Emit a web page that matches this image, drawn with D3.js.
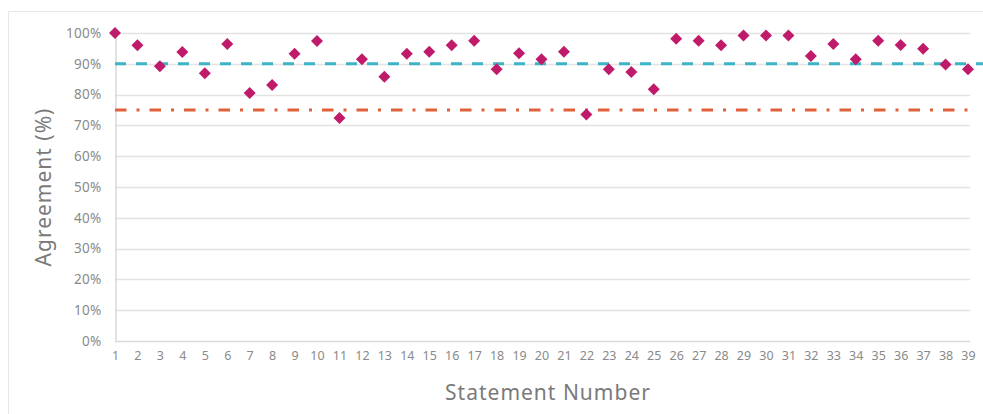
<!DOCTYPE html>
<html>
<head>
<meta charset="utf-8">
<script src="https://cdn.jsdelivr.net/npm/d3@7"></script>
<style>
  body { margin: 0; background: #fff; }
  svg { display: block; }
</style>
</head>
<body>
<div id="viz"></div>
<script>
// statement numbers and agreement share (0-1)
const statements = d3.range(1, 40);
const agreement = [
  1.0, 0.96, 0.892, 0.938, 0.869, 0.964, 0.805, 0.831, 0.933, 0.974,
  0.724, 0.915, 0.858, 0.933, 0.939, 0.96, 0.975, 0.882, 0.934, 0.915,
  0.939, 0.735, 0.882, 0.873, 0.817, 0.981, 0.975, 0.96, 0.992, 0.992,
  0.992, 0.925, 0.964, 0.915, 0.975, 0.961, 0.949, 0.898, 0.882
];
const yTicks = d3.range(0, 1.01, 0.1);
const targetLine = 0.9;
const minimumLine = 0.75;

const width = 983;
const height = 414;
const font = "'Noto Sans', sans-serif";

const svg = d3
  .select("#viz")
  .append("svg")
  .attr("width", width)
  .attr("height", height);

// chart frame
svg
  .append("path")
  .attr("d", `M8.5,${height} V11.5 H${width}`)
  .attr("fill", "none")
  .attr("stroke", "#e6e6e6");

const x = d3.scalePoint().domain(statements).range([115, 968]);
const y = d3.scaleLinear().domain([0, 1]).range([341, 33]);

// gridlines
svg
  .selectAll("line.grid")
  .data(yTicks.slice(1))
  .enter()
  .append("line")
  .classed("grid", true)
  .attr("x1", 115)
  .attr("x2", 970)
  .attr("y1", (d) => Math.round(y(d)) + 0.5)
  .attr("y2", (d) => Math.round(y(d)) + 0.5)
  .attr("stroke", "#e3e3e3")
  .attr("stroke-width", 1.3);

// axes
const yAxis = svg
  .append("g")
  .attr("transform", "translate(115.5,0)")
  .call(
    d3.axisLeft(y).tickValues(yTicks).tickSize(0).tickPadding(14)
      .tickFormat(d3.format(".0%"))
  );
yAxis.select(".domain").attr("stroke", "#d9d9d9").attr("stroke-width", 1.5);
yAxis
  .selectAll("text")
  .attr("fill", "#8a8a8a")
  .style("font-family", font)
  .style("font-size", "13.5px")
  .style("letter-spacing", "0.3px");

const xAxis = svg
  .append("g")
  .attr("transform", `translate(0,${y(0) + 0.5})`)
  .call(d3.axisBottom(x).tickSize(0).tickPadding(10));
xAxis.select(".domain")
  .attr("d", `M115,0H970`)
  .attr("stroke", "#d9d9d9")
  .attr("stroke-width", 1.5);
xAxis
  .selectAll("text")
  .attr("fill", "#8a8a8a")
  .style("font-family", font)
  .style("font-size", "12.5px");

// reference lines
svg
  .append("line")
  .attr("x1", 115)
  .attr("x2", width)
  .attr("y1", y(targetLine))
  .attr("y2", y(targetLine))
  .attr("stroke", "#3db4c6")
  .attr("stroke-width", 3)
  .attr("stroke-dasharray", "11 10");

svg
  .append("line")
  .attr("x1", 115)
  .attr("x2", 975)
  .attr("y1", y(minimumLine))
  .attr("y2", y(minimumLine))
  .attr("stroke", "#e0603c")
  .attr("stroke-width", 3)
  .attr("stroke-dasharray", "11.5 10 3 10");

// points
svg
  .selectAll("path.point")
  .data(agreement)
  .enter()
  .append("path")
  .classed("point", true)
  .attr("d", d3.symbol().type(d3.symbolSquare).size(72))
  .attr(
    "transform",
    (d, i) => `translate(${x(statements[i])},${y(d)}) rotate(45)`
  )
  .attr("fill", "#c01b6b");

// axis titles
svg
  .append("text")
  .text("Agreement (%)")
  .attr("transform", `translate(51,${y(0.5)}) rotate(-90)`)
  .attr("text-anchor", "middle")
  .attr("fill", "#7a7a7a")
  .style("font-family", font)
  .style("font-size", "21px")
  .style("letter-spacing", "1px");

svg
  .append("text")
  .text("Statement Number")
  .attr("x", 548)
  .attr("y", 400)
  .attr("text-anchor", "middle")
  .attr("fill", "#7a7a7a")
  .style("font-family", font)
  .style("font-size", "21px")
  .style("letter-spacing", "1px");
</script>
</body>
</html>
